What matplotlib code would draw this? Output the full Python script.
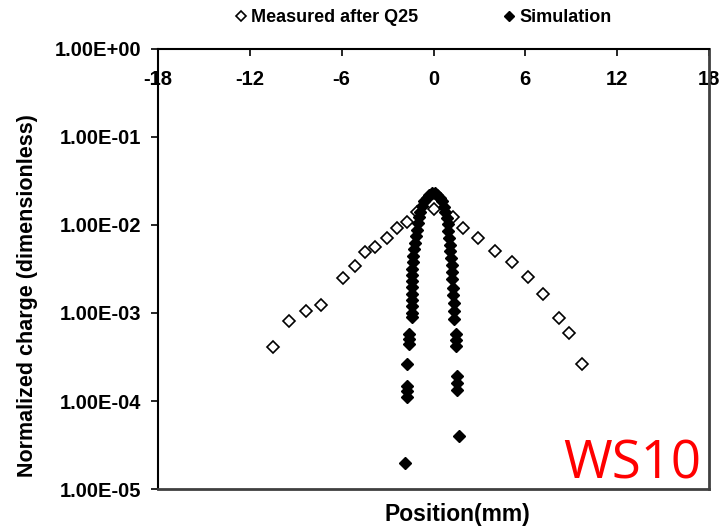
import numpy as np
import matplotlib
matplotlib.use("Agg")
import matplotlib.pyplot as plt
from matplotlib.ticker import FixedLocator, FuncFormatter

# measured profile after Q25 (open diamonds)
meas_x = [-10.49, -9.44, -8.33, -7.35, -5.92, -5.13, -4.48, -3.82, -3.04, -2.39,
          -1.73, -1.08, 0.0, 1.27, 1.93, 2.91, 4.02, 5.13, 6.18, 7.16, 8.20, 8.86, 9.71]
meas_y = [4.1e-4, 8.1e-4, 1.05e-3, 1.23e-3, 2.5e-3, 3.4e-3, 4.9e-3, 5.6e-3, 7.1e-3, 9.2e-3,
          1.08e-2, 1.41e-2, 1.52e-2, 1.23e-2, 9.2e-3, 7.1e-3, 5.1e-3, 3.8e-3, 2.57e-3, 1.64e-3,
          8.8e-4, 5.9e-4, 2.6e-4]

# simulation (filled diamonds)
sim_x = [-1.86, -1.73, -1.73, -1.73, -1.73, -1.60, -1.60, -1.60,
         -1.40, -1.40, -1.40, -1.40, -1.40, -1.40, -1.40, -1.40, -1.38, -1.36,
         -1.32, -1.28, -1.22, -1.16, -1.10, -1.03, -0.95, -0.85, -0.72, -0.60,
         -0.45, -0.30, -0.10, 0.10, 0.25, 0.40, 0.55, 0.68, 0.78, 0.86, 0.92,
         0.97, 1.02, 1.06, 1.10, 1.14, 1.18, 1.20, 1.22, 1.30, 1.30, 1.32, 1.34,
         1.36, 1.47, 1.47, 1.47, 1.54, 1.54, 1.54, 1.67]
sim_y = [2.0e-5, 1.12e-4, 1.3e-4, 1.5e-4, 2.6e-4, 4.4e-4, 5.0e-4, 5.8e-4,
         9.0e-4, 1.0e-3, 1.2e-3, 1.4e-3, 1.65e-3, 1.95e-3, 2.3e-3, 2.7e-3, 3.2e-3, 3.8e-3,
         4.5e-3, 5.3e-3, 6.3e-3, 7.5e-3, 8.8e-3, 1.05e-2, 1.22e-2, 1.42e-2, 1.65e-2, 1.85e-2,
         2.05e-2, 2.2e-2, 2.3e-2, 2.3e-2, 2.2e-2, 2.05e-2, 1.85e-2, 1.62e-2, 1.4e-2, 1.2e-2, 1.02e-2,
         8.6e-3, 7.2e-3, 6.0e-3, 5.0e-3, 4.2e-3, 3.5e-3, 2.9e-3, 2.45e-3, 1.9e-3, 1.6e-3, 1.3e-3, 1.05e-3,
         8.5e-4, 5.8e-4, 4.9e-4, 4.2e-4, 1.9e-4, 1.6e-4, 1.35e-4, 4.0e-5]

xticks = [-18, -12, -6, 0, 6, 12, 18]
yticks = [1e-5, 1e-4, 1e-3, 1e-2, 1e-1, 1e0]

plt.rcParams['font.family'] = ['Liberation Sans', 'DejaVu Sans']
plt.rcParams['axes.unicode_minus'] = False

fig = plt.figure(figsize=(7.21, 5.29), dpi=100)
ax = fig.add_axes([0.2191, 0.0756, 0.7643, 0.8318])

ax.plot(meas_x, meas_y, linestyle='none', marker='D', ms=5.8, mfc='white',
        mec='black', mew=1.2, label='Measured after Q25', zorder=3)
ax.plot(sim_x, sim_y, linestyle='none', marker='D', ms=6.2, mfc='black',
        mec='black', mew=1.0, label='Simulation', zorder=4)

ax.set_yscale('log')
ax.set_xlim(-18, 18)
ax.set_ylim(1e-5, 1e0)
ax.xaxis.set_major_locator(FixedLocator(xticks))
ax.yaxis.set_major_locator(FixedLocator(yticks))
ax.yaxis.set_minor_locator(FixedLocator([]))
ax.yaxis.set_major_formatter(FuncFormatter(lambda v, p: "%.2E" % v))

ax.xaxis.tick_top()
ax.tick_params(axis='x', direction='in', length=5, width=1.2, pad=-29,
               labelsize=14.5)
ax.tick_params(axis='y', direction='out', length=5, width=1.2, pad=7,
               labelsize=14.5)
for lab in ax.get_xticklabels() + ax.get_yticklabels():
    lab.set_fontweight('bold')

for side in ['left', 'top']:
    ax.spines[side].set_linewidth(1.5)
    ax.spines[side].set_color('black')
for side in ['right', 'bottom']:
    ax.spines[side].set_linewidth(2)
    ax.spines[side].set_color('#404040')

ax.set_ylabel('Normalized charge (dimensionless)', fontsize=15.5, fontweight='bold',
              labelpad=12)
ax.yaxis.label.set_y(0.44)
fig.text(0.634, 0.006, 'Position(mm)', ha='center', va='bottom', fontsize=16.5,
         fontweight='bold')

ax.text(0.985, 0.025, 'WS10', transform=ax.transAxes, ha='right', va='baseline',
        color='red', fontsize=38, family='Open Sans')

ax.legend(loc='center', bbox_to_anchor=(0.585, 0.966), bbox_transform=fig.transFigure,
          ncol=2, frameon=False, prop={'weight': 'bold', 'size': 13},
          handletextpad=0.1, columnspacing=4.5, markerscale=0.8, handlelength=1.0)

fig.savefig('out.png', dpi=100)
